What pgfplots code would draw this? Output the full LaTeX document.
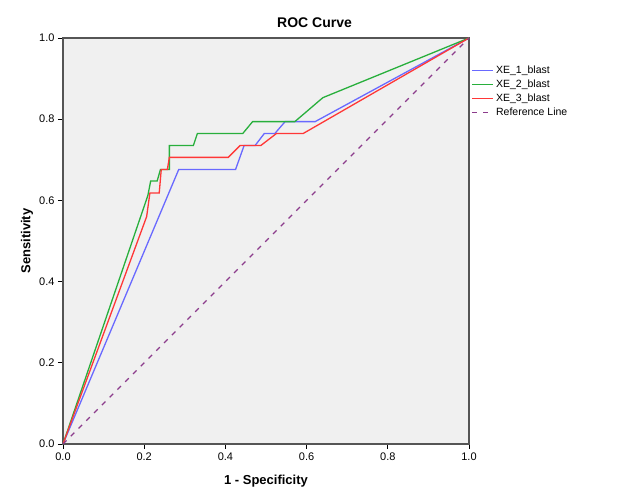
\documentclass[border=0pt]{standalone}
\usepackage{fontspec}
\setmainfont{Liberation Sans}
\usepackage{pgfplots}
\pgfplotsset{compat=1.18}
\definecolor{c1}{RGB}{105,105,255}
\definecolor{c2}{RGB}{40,175,60}
\definecolor{c3}{RGB}{255,55,55}
\definecolor{cref}{RGB}{140,60,140}
\definecolor{bg}{RGB}{240,240,240}
\definecolor{frame}{RGB}{85,85,85}
\begin{document}
\begin{tikzpicture}[x=1bp,y=1bp]
\begin{axis}[
  at={(0,0)}, anchor=south west,
  scale only axis, width=406bp, height=406bp,
  xmin=0, xmax=1, ymin=0, ymax=1,
  axis background/.style={fill=bg},
  axis line style={frame, line width=1.3bp},
  xtick={0,0.2,0.4,0.6,0.8,1.0},
  ytick={0,0.2,0.4,0.6,0.8,1.0},
  tick align=outside, tick pos=left,
  major tick length=5bp,
  tick style={black, line width=0.8bp},
  ticklabel style={font=\fontsize{11bp}{13bp}\selectfont},
  /pgf/number format/.cd, fixed, fixed zerofill, precision=1, assume math mode=true,
  /pgfplots/.cd,
  title={ROC Curve},
  title style={at={(axis description cs:0.6195,1.024)}, anchor=center, font=\bfseries\fontsize{14bp}{16bp}\selectfont},
  xlabel={1 - Specificity},
  ylabel={Sensitivity},
  xlabel style={at={(axis description cs:0.5,-0.0911)}, anchor=center, font=\bfseries\fontsize{13bp}{15bp}\selectfont},
  ylabel style={at={(axis description cs:-0.0887,0.5)}, anchor=center, font=\bfseries\fontsize{13bp}{15bp}\selectfont},
  legend style={at={(axis description cs:1.004,0.941)}, anchor=north west, draw=none, fill=none,
    font=\fontsize{10.5bp}{12bp}\selectfont, row sep=0.9bp, inner xsep=1bp},
  legend cell align=left,
  legend image code/.code={\draw[#1] (0bp,0bp) -- (21bp,0bp);},
]
\addplot[c1, line width=1.3bp] coordinates {
 (0,0) (0.285,0.676) (0.425,0.676) (0.446,0.735) (0.473,0.735) (0.496,0.765) (0.522,0.765) (0.547,0.794) (0.621,0.794) (1,1)};
\addlegendentry{XE\_1\_blast}
\addplot[c2, line width=1.3bp] coordinates {
 (0,0) (0.209,0.612) (0.216,0.648) (0.232,0.648) (0.240,0.676) (0.262,0.676) (0.262,0.735) (0.321,0.735) (0.331,0.765) (0.443,0.765) (0.467,0.794) (0.571,0.794) (0.640,0.853) (1,1)};
\addlegendentry{XE\_2\_blast}
\addplot[c3, line width=1.3bp] coordinates {
 (0,0) (0.206,0.56) (0.214,0.618) (0.237,0.618) (0.242,0.676) (0.257,0.676) (0.262,0.706) (0.407,0.706) (0.436,0.735) (0.487,0.735) (0.526,0.765) (0.592,0.765) (1,1)};
\addlegendentry{XE\_3\_blast}
\addplot[cref, line width=1.3bp, dash pattern=on 5bp off 6bp] coordinates {(0,0) (1,1)};
\addlegendentry{Reference Line}
\end{axis}
\pgfresetboundingbox
\path (-63bp,-60bp) rectangle (566bp,444bp);
\end{tikzpicture}
\end{document}
